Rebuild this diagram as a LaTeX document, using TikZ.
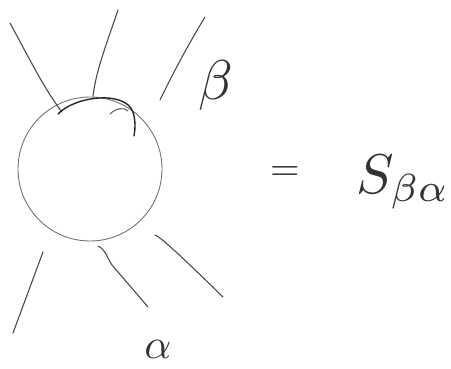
\documentclass[tikz,border=0pt]{standalone}
\usepackage{graphicx}
\usepackage{amsmath}
\begin{document}
\begin{tikzpicture}[x=1pt,y=-1pt,
  stroke/.style={draw=black!70,line width=1.1pt,line cap=round,line join=round},
  rim/.style={draw=black!55,line width=0.9pt},
  hand/.style={text=black!80,inner sep=0pt}]
\useasboundingbox (0,0) rectangle (451,369);
\fill[white] (0,0) rectangle (451,369);
% blob
\node[circle,rim,minimum size=144pt,inner sep=0pt] (blob) at (90,169) {};
% upper legs
\draw[stroke] (10,23) .. controls (30,60) and (45,90) .. (62,112);
\draw[stroke] (118,10) .. controls (108,40) and (96,70) .. (93,96);
\draw[stroke] (205,17) .. controls (188,45) and (172,75) .. (160,100);
% darker arc over the top
\draw[stroke,line width=1.4pt,black!85] (58,114) .. controls (75,96) and (125,90) .. (133,112) .. controls (136,122) and (135,130) .. (134,136);
\draw[stroke,black!60] (110,114) .. controls (116,108) and (124,107) .. (128,111);
% lower legs
\draw[stroke] (43,252) -- (13,333);
\draw[stroke] (98,246) .. controls (106,250) and (106,256) .. (112,265) -- (148,307);
\draw[stroke] (155,235) .. controls (160,237) and (175,250) .. (223,297);
% labels
\node[hand] (beta) at (216,86) {\scalebox{5.6}{$\beta$}};
\node[hand] (alpha) at (158,349) {\scalebox{4.2}{$\alpha$}};
\node[hand] (eq) at (285,174) {\scalebox{3.8}{$=$}};
\node[hand,anchor=west] (S) at (356,182) {\scalebox{5.6}{$S_{\beta\alpha}$}};
\end{tikzpicture}
\end{document}
